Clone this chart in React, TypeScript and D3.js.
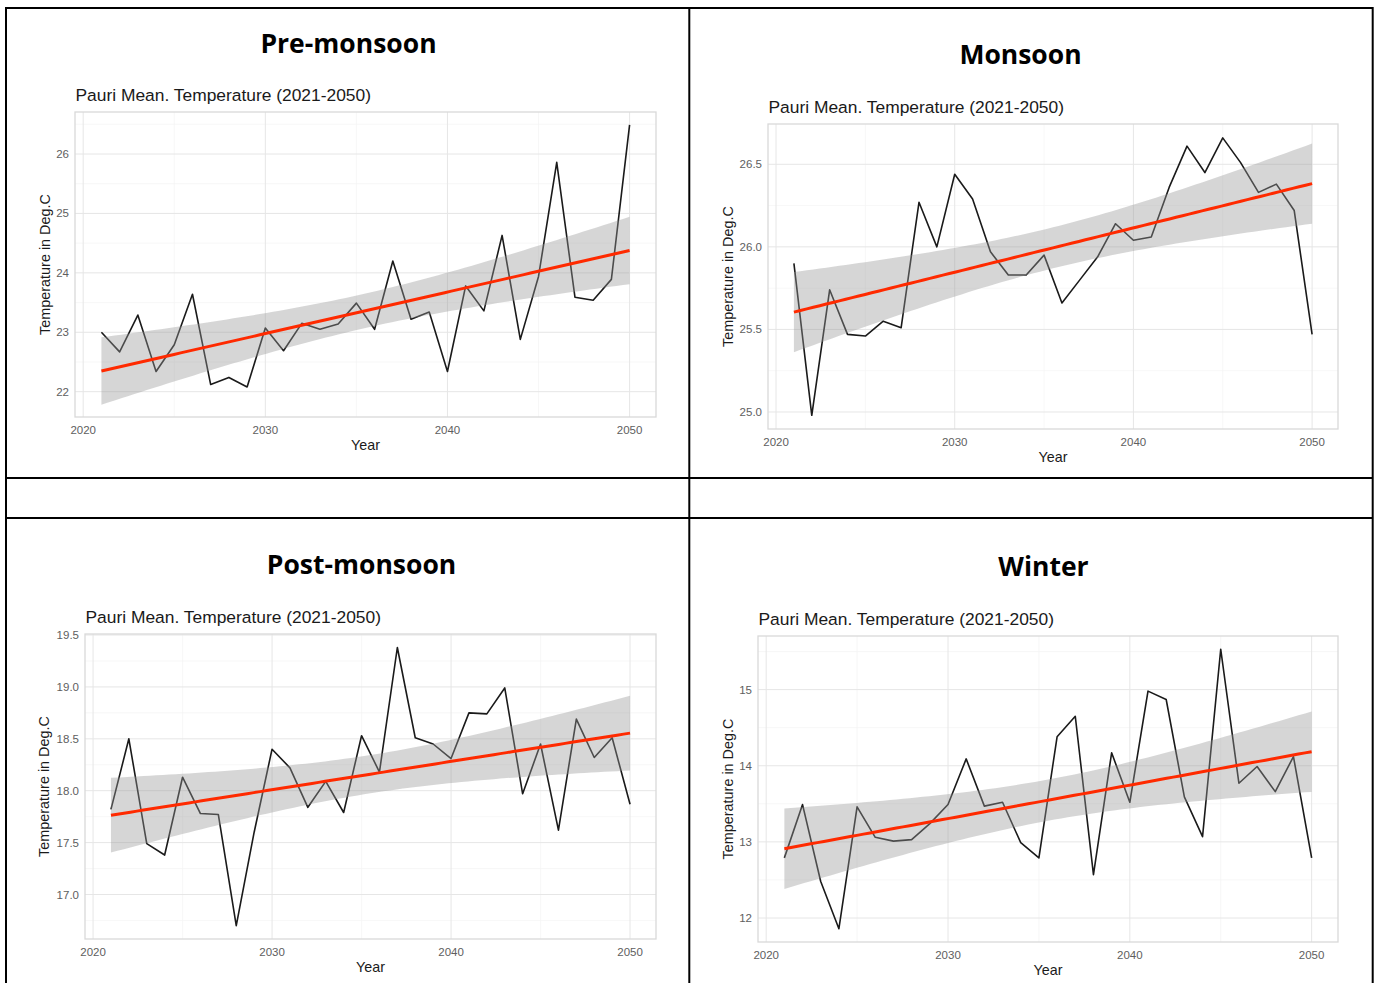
import React from "react";
import * as d3 from "d3";

const YEARS = [2021, 2022, 2023, 2024, 2025, 2026, 2027, 2028, 2029, 2030, 2031, 2032, 2033, 2034, 2035, 2036, 2037, 2038, 2039, 2040, 2041, 2042, 2043, 2044, 2045, 2046, 2047, 2048, 2049, 2050];

const PRE_MONSOON = [23.0, 22.67, 23.29, 22.34, 22.79, 23.64, 22.12, 22.24, 22.08, 23.07, 22.69, 23.15, 23.05, 23.14, 23.49, 23.05, 24.2, 23.22, 23.34, 22.34, 23.78, 23.36, 24.63, 22.88, 23.94, 25.86, 23.59, 23.54, 23.89, 26.49];
const MONSOON = [25.9, 24.98, 25.74, 25.47, 25.46, 25.55, 25.51, 26.27, 26.0, 26.44, 26.29, 25.97, 25.83, 25.83, 25.95, 25.66, 25.8, 25.94, 26.14, 26.04, 26.06, 26.36, 26.61, 26.45, 26.66, 26.51, 26.33, 26.38, 26.22, 25.47];
const POST_MONSOON = [17.82, 18.5, 17.49, 17.38, 18.13, 17.78, 17.77, 16.7, 17.6, 18.4, 18.22, 17.84, 18.09, 17.79, 18.53, 18.18, 19.38, 18.51, 18.45, 18.31, 18.75, 18.74, 18.99, 17.97, 18.45, 17.62, 18.69, 18.32, 18.51, 17.87];
const WINTER = [12.79, 13.49, 12.48, 11.86, 13.46, 13.06, 13.01, 13.03, 13.24, 13.49, 14.09, 13.47, 13.52, 12.99, 12.79, 14.38, 14.65, 12.57, 14.17, 13.52, 14.98, 14.87, 13.59, 13.07, 15.53, 13.77, 13.99, 13.66, 14.12, 12.79];

const X_TICKS = [2020, 2030, 2040, 2050];
const X_MINOR = [2025, 2035, 2045];
const PRE_Y_TICKS = [22, 23, 24, 25, 26];
const MON_Y_TICKS = [25.0, 25.5, 26.0, 26.5];
const POST_Y_TICKS = [17.0, 17.5, 18.0, 18.5, 19.0, 19.5];
const WIN_Y_TICKS = [12, 13, 14, 15];

const SUBTITLE = "Pauri Mean. Temperature (2021-2050)";
const X_LABEL = "Year";
const Y_LABEL = "Temperature in Deg.C";

type PanelCfg = {
  title: string;
  titleX: number;
  titleY: number;
  left: number;
  top: number;
  right: number;
  bottom: number;
  yDomain: [number, number];
  yTicks: number[];
  yFmt: (v: number) => string;
  yLabelX: number;
  values: number[];
};

const PANELS: PanelCfg[] = [
  { title: "Pre-monsoon", titleX: 348.5, titleY: 53, left: 75, top: 112, right: 656, bottom: 417, yDomain: [21.574, 26.707], yTicks: PRE_Y_TICKS, yFmt: d3.format("d"), yLabelX: 45, values: PRE_MONSOON },
  { title: "Monsoon", titleX: 1020.5, titleY: 64, left: 768, top: 124, right: 1338, bottom: 429, yDomain: [24.897, 26.744], yTicks: MON_Y_TICKS, yFmt: d3.format(".1f"), yLabelX: 727.5, values: MONSOON },
  { title: "Post-monsoon", titleX: 361.5, titleY: 574, left: 85, top: 634, right: 656, bottom: 939, yDomain: [16.571, 19.51], yTicks: POST_Y_TICKS, yFmt: d3.format(".1f"), yLabelX: 44, values: POST_MONSOON },
  { title: "Winter", titleX: 1043.5, titleY: 576, left: 758, top: 636, right: 1338, bottom: 942, yDomain: [11.685, 15.704], yTicks: WIN_Y_TICKS, yFmt: d3.format("d"), yLabelX: 727.5, values: WINTER },
];

const FONT = "'Liberation Sans', Arial, Helvetica, sans-serif";

function fitLm(xs: number[], ys: number[]) {
  const n = xs.length;
  const xm = d3.mean(xs)!;
  const ym = d3.mean(ys)!;
  let sxx = 0, sxy = 0;
  for (let i = 0; i < n; i++) {
    sxx += (xs[i] - xm) ** 2;
    sxy += (xs[i] - xm) * (ys[i] - ym);
  }
  const b = sxy / sxx;
  const a = ym - b * xm;
  let sse = 0;
  for (let i = 0; i < n; i++) sse += (ys[i] - (a + b * xs[i])) ** 2;
  const sigma = Math.sqrt(sse / (n - 2));
  const t = 2.0484; // t(0.975, 28)
  const pred = (x: number) => {
    const y = a + b * x;
    const se = sigma * Math.sqrt(1 / n + (x - xm) ** 2 / sxx);
    return { x, y, lo: y - t * se, hi: y + t * se };
  };
  return pred;
}

function Panel({ cfg }: { cfg: PanelCfg }) {
  const x = d3.scaleLinear().domain([2019.55, 2051.45]).range([cfg.left, cfg.right]);
  const y = d3.scaleLinear().domain(cfg.yDomain).range([cfg.bottom, cfg.top]);
  const yMinor: number[] = [];
  const step = cfg.yTicks[1] - cfg.yTicks[0];
  for (let i = -1; i < cfg.yTicks.length; i++) {
    const v = cfg.yTicks[0] + step * (i + 0.5);
    if (v > cfg.yDomain[0] && v < cfg.yDomain[1]) yMinor.push(v);
  }
  const pts = YEARS.map((yr, i) => [yr, cfg.values[i]] as [number, number]);
  const line = d3.line<[number, number]>().x((d) => x(d[0])).y((d) => y(d[1]));
  const pred = fitLm(YEARS, cfg.values);
  const fx = d3.range(0, 81).map((i) => YEARS[0] + (i * (YEARS[YEARS.length - 1] - YEARS[0])) / 80);
  const fit = fx.map(pred);
  const area = d3.area<{ x: number; lo: number; hi: number }>().x((d) => x(d.x)).y0((d) => y(d.lo)).y1((d) => y(d.hi));
  const fitLine = d3.line<{ x: number; y: number }>().x((d) => x(d.x)).y((d) => y(d.y));
  const cx = (cfg.left + cfg.right) / 2;
  const cy = (cfg.top + cfg.bottom) / 2;
  const clipId = "clip-" + cfg.title;
  return (
    <g>
      <defs>
        <clipPath id={clipId}>
          <rect x={cfg.left} y={cfg.top} width={cfg.right - cfg.left} height={cfg.bottom - cfg.top} />
        </clipPath>
      </defs>
      <text x={cfg.titleX} y={cfg.titleY} textAnchor="middle" fontFamily="'Open Sans', sans-serif" fontWeight={700} fontSize={26.5} fill="#000">
        {cfg.title}
      </text>
      <text x={cfg.left + 0.5} y={cfg.top - 11} fontFamily={FONT} fontSize={17.4} fill="#1a1a1a">
        {SUBTITLE}
      </text>
      <g clipPath={`url(#${clipId})`}>
        {X_MINOR.map((v) => (
          <line key={"xm" + v} x1={x(v)} x2={x(v)} y1={cfg.top} y2={cfg.bottom} stroke="#f3f3f3" strokeWidth={0.7} />
        ))}
        {yMinor.map((v) => (
          <line key={"ym" + v} x1={cfg.left} x2={cfg.right} y1={y(v)} y2={y(v)} stroke="#f3f3f3" strokeWidth={0.7} />
        ))}
        {X_TICKS.map((v) => (
          <line key={"xg" + v} x1={x(v)} x2={x(v)} y1={cfg.top} y2={cfg.bottom} stroke="#e6e6e6" strokeWidth={1} />
        ))}
        {cfg.yTicks.map((v) => (
          <line key={"yg" + v} x1={cfg.left} x2={cfg.right} y1={y(v)} y2={y(v)} stroke="#e6e6e6" strokeWidth={1} />
        ))}
        <path d={line(pts) || ""} fill="none" stroke="#1a1a1a" strokeWidth={1.6} strokeLinejoin="round" />
        <path d={area(fit) || ""} fill="#999999" fillOpacity={0.4} stroke="none" />
        <path d={fitLine(fit) || ""} fill="none" stroke="#ff2a00" strokeWidth={3} />
      </g>
      <rect x={cfg.left} y={cfg.top} width={cfg.right - cfg.left} height={cfg.bottom - cfg.top} fill="none" stroke="#d9d9d9" strokeWidth={1.3} />
      {X_TICKS.map((v) => (
        <text key={"xt" + v} x={x(v)} y={cfg.bottom + 16.5} textAnchor="middle" fontFamily={FONT} fontSize={11.5} fill="#5e5e5e">
          {v}
        </text>
      ))}
      {cfg.yTicks.map((v) => (
        <text key={"yt" + v} x={cfg.left - 6} y={y(v)} dy="0.35em" textAnchor="end" fontFamily={FONT} fontSize={11.5} fill="#5e5e5e">
          {cfg.yFmt(v)}
        </text>
      ))}
      <text x={cx} y={cfg.bottom + 32.5} textAnchor="middle" fontFamily={FONT} fontSize={14.3} fill="#1a1a1a">
        {X_LABEL}
      </text>
      <text transform={`translate(${cfg.yLabelX},${cy}) rotate(-90)`} textAnchor="middle" dy="0.35em" fontFamily={FONT} fontSize={14.4} fill="#1a1a1a">
        {Y_LABEL}
      </text>
    </g>
  );
}

export default function App() {
  const W = 1379;
  const H = 983;
  return (
    <svg width={W} height={H} style={{ position: "absolute", left: 0, top: 0, background: "#fff" }}>
      <rect x={0} y={0} width={W} height={H} fill="#fff" />
      <g stroke="#000" strokeWidth={2} fill="none">
        <line x1={6} x2={1373} y1={8} y2={8} />
        <line x1={6} x2={6} y1={7} y2={H} />
        <line x1={1372.7} x2={1372.7} y1={7} y2={H} />
        <line x1={689.3} x2={689.3} y1={7} y2={H} />
        <line x1={6} x2={1373} y1={478} y2={478} />
        <line x1={6} x2={1373} y1={518} y2={518} />
      </g>
      {PANELS.map((p) => (
        <Panel key={p.title} cfg={p} />
      ))}
    </svg>
  );
}
